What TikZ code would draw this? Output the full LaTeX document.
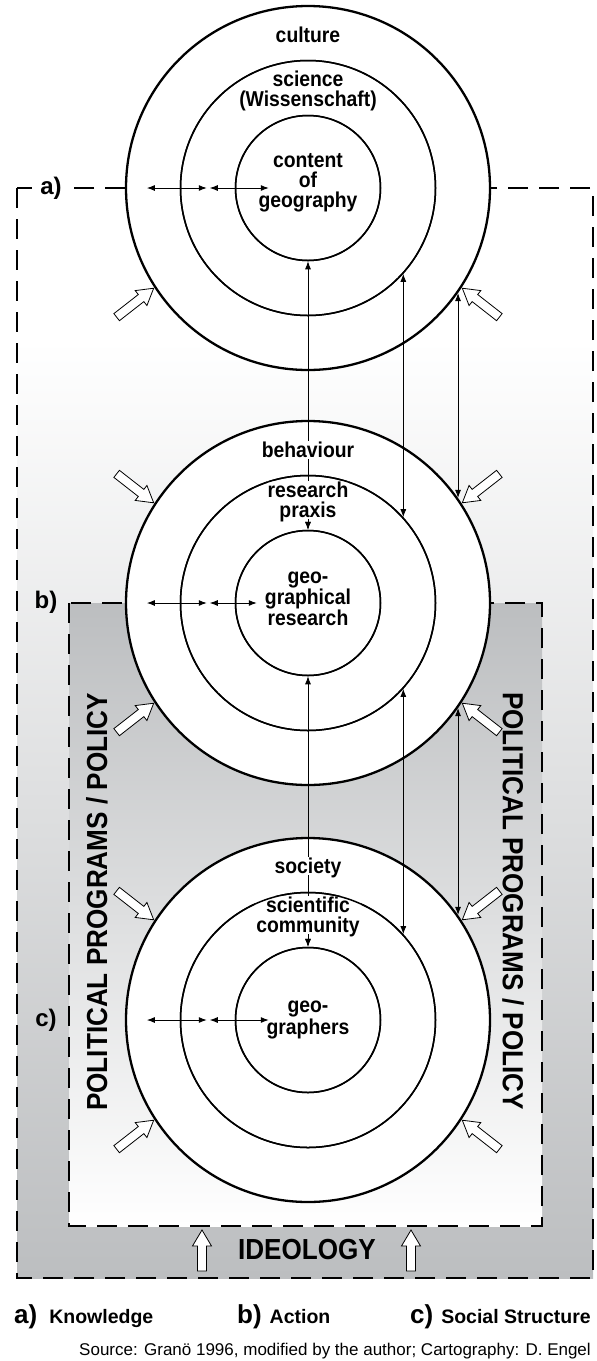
\documentclass[tikz,border=0pt]{standalone}
\usepackage{fontspec}
\setmainfont{Liberation Sans}
\newfontfamily\narrowFont[FakeStretch=0.9]{Liberation Sans}
\usepackage{tikz}
\usetikzlibrary{calc, arrows.meta}
\definecolor{shadeGray}{HTML}{BCBEC0}

\newcommand{\hollowArrow}[3]{%
  \draw[hollow, shift={#1}, rotate=#2] (0,0) -- (-16,9.5) -- (-16,4.5) -- (-#3,4.5)
    -- (-#3,-4.5) -- (-16,-4.5) -- (-16,-9.5) -- cycle;}

\begin{document}
\begin{tikzpicture}[x=1pt, y=-1pt,
    ring/.style={circle, draw, fill=white, inner sep=0pt, line width=1.5pt},
    outerRing/.style={ring, line width=2.3pt},
    frame/.style={line width=2.6pt, dash pattern=on 20pt off 11pt},
    ringText/.style={font=\narrowFont\fontsize{21.5}{20}\selectfont\bfseries, align=center, inner sep=1.5pt},
    onWhite/.style={ringText, fill=white, text depth=0pt, inner sep=1pt},
    link/.style={line width=0.9pt, {Latex[length=8pt,width=6pt]}-{Latex[length=8pt,width=6pt]}},
    down/.style={line width=0.9pt, -{Latex[length=8pt,width=6pt]}},
    hollow/.style={draw, fill=white, line width=0.8pt, line join=miter},
    frameLabel/.style={font=\fontsize{24}{24}\selectfont\bfseries},
    sideText/.style={font=\narrowFont\fontsize{29}{29}\selectfont\bfseries, inner sep=0pt},
    legendText/.style={anchor=base west, inner sep=0pt, font=\fontsize{19.5}{19.5}\selectfont\bfseries}]
    \useasboundingbox (0,0) rectangle (597,1361);
    \shade[top color=white, bottom color=shadeGray] (17,340) rectangle (593,1278);
    \shade[top color=shadeGray, bottom color=white] (69,603) rectangle (542,1226);
    \draw[frame] (17,188) rectangle (593,1278);
    \draw[frame] (69,603) rectangle (542,1226);
    \foreach \name/\y in {top/188, mid/603, bot/1020} {
        \node[outerRing, minimum size=364pt] (\name Outer) at (308,\y) {};
        \node[ring, minimum size=255pt] (\name Ring) at (308,\y) {};
        \node[ring, minimum size=145pt] (\name Inner) at (308,\y) {};
    }
    \draw[link] (topInner.south) -- (midInner.north);
    \draw[link] (midInner.south) -- (botInner.north);
    \draw[link] (topRing.-42.5) -- (midRing.42.5);
    \draw[link] (midRing.-42.5) -- (botRing.42.5);
    \draw[link] (topOuter.-35) -- (midOuter.35);
    \draw[link] (midOuter.-35) -- (botOuter.35);
    \node[ringText] (culture) at (308,35) {culture};
    \node[ringText] (science) at (308,91) {science\\(Wissenschaft)};
    \node[ringText] (content) at (308,183) {content\\of\\geography};
    \node[onWhite] (behaviour) at (308,450) {behaviour};
    \node[onWhite] (praxis) at (308,500) {research\\praxis};
    \node[ringText] (geoResearch) at (308,599) {geo-\\graphical\\research};
    \node[onWhite] (society) at (308,866) {society};
    \node[onWhite] (community) at (308,915) {scientific\\community};
    \node[ringText] (geographers) at (308,1020) {geo-\\graphers};
    \draw[down] (praxis.south) -- (midInner.north);
    \draw[down] (community.south) -- (botInner.north);
    \foreach \name in {top, mid, bot} {
        \draw[line width=1.5pt] (\name Ring.center) circle[radius=127.5pt];
        \draw[line width=1.5pt] (\name Inner.center) circle[radius=72.5pt];
    }
    \foreach \name/\stop in {top/34, mid/22, bot/34} {
        \draw[link] ([xshift=22pt]\name Outer.west) -- ([xshift=27pt]\name Ring.west);
        \draw[link] ([xshift=30pt]\name Ring.west) -- ([xshift=\stop pt]\name Inner.west);
    }
    \foreach \name in {top, mid, bot} {
        \hollowArrow{($(\name Outer)+(33:184)$)}{142}{47}
        \hollowArrow{($(\name Outer)+(147:184)$)}{38}{47}
    }
    \foreach \name in {mid, bot} {
        \hollowArrow{($(\name Outer)+(-33:184)$)}{-142}{47}
        \hollowArrow{($(\name Outer)+(-147:184)$)}{-38}{47}
    }
    \node[frameLabel, fill=white, inner xsep=6pt] (labelA) at (51,188) {a)};
    \node[frameLabel] (labelB) at (46,602) {b)};
    \node[frameLabel] (labelC) at (46,1020) {c)};
    \node[sideText, rotate=90] (policyLeft) at (97,902) {POLITICAL PROGRAMS / POLICY};
    \node[sideText, rotate=-90] (policyRight) at (513,901) {POLITICAL PROGRAMS / POLICY};
    \node[sideText] (ideology) at (307,1249) {IDEOLOGY};
    \hollowArrow{(202,1230)}{90}{41}
    \hollowArrow{(411,1230)}{90}{41}
    \node[legendText] (legendA) at (14,1323)
        {{\fontsize{26}{26}\selectfont a)}\hspace{12pt}Knowledge};
    \node[legendText] (legendB) at (237,1323)
        {{\fontsize{26}{26}\selectfont b)}\hspace{8pt}Action};
    \node[legendText, anchor=base east] (legendC) at (591,1323)
        {{\fontsize{26}{26}\selectfont c)}\hspace{8pt}Social Structure};
    \node[anchor=base east, inner sep=0pt, font=\fontsize{17}{17}\selectfont] (source) at (591,1355)
        {Source: Granö 1996, modified by the author; Cartography: D. Engel};
\end{tikzpicture}
\end{document}
